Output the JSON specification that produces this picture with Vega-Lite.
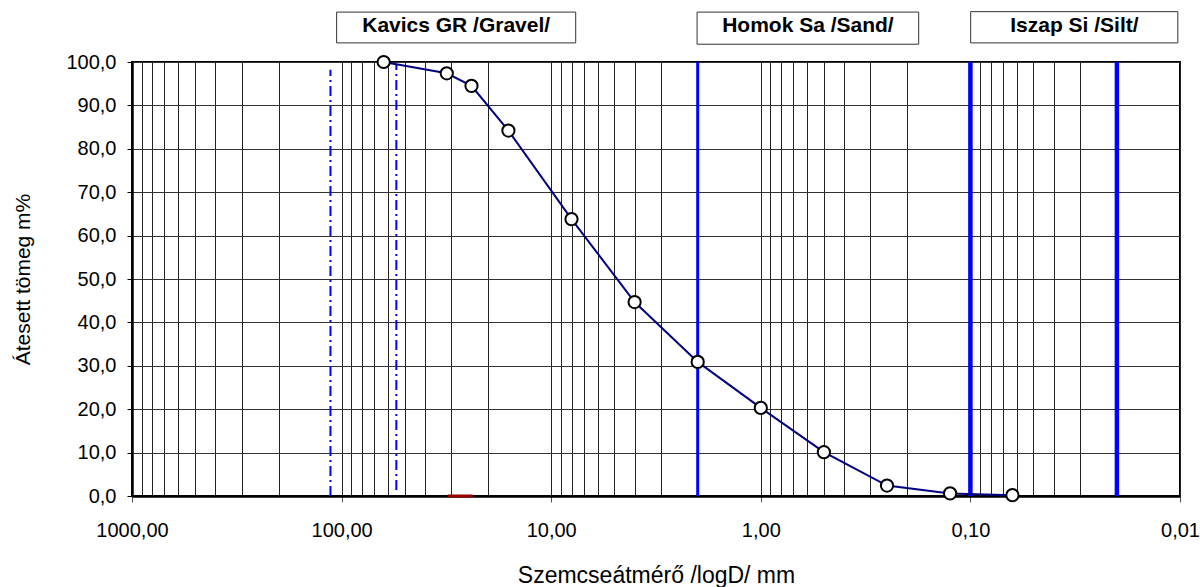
{
  "$schema": "https://vega.github.io/schema/vega-lite/v6.json",
  "width": 1048,
  "height": 434,
  "autosize": "none",
  "padding": {"left": 132, "top": 62, "right": 20, "bottom": 91},
  "background": "white",
  "config": {
    "font": "Liberation Sans",
    "view": {"stroke": "black", "strokeWidth": 2},
    "axis": {"labelColor": "black", "titleColor": "black", "labelFont": "Liberation Sans", "titleFont": "Liberation Sans"}
  },
  "datasets": {
    "sieve": [
      {"d": 63, "p": 100},
      {"d": 31.5, "p": 97.4},
      {"d": 24, "p": 94.5},
      {"d": 16, "p": 84.2},
      {"d": 8, "p": 63.8},
      {"d": 4, "p": 44.7},
      {"d": 2, "p": 30.9},
      {"d": 1, "p": 20.3},
      {"d": 0.5, "p": 10.1},
      {"d": 0.25, "p": 2.4},
      {"d": 0.125, "p": 0.6},
      {"d": 0.063, "p": 0.2}
    ],
    "zones": [
      {"name": "Kavics GR /Gravel/", "x1": 105.6, "x2": 7.64, "xc": 28.4, "y1": 104.4, "y2": 111.5, "yt": 106.8},
      {"name": "Homok Sa /Sand/", "x1": 2.014, "x2": 0.1765, "xc": 0.596, "y1": 104.1, "y2": 111.5, "yt": 106.8},
      {"name": "Iszap Si /Silt/", "x1": 0.0997, "x2": 0.01024, "xc": 0.0319, "y1": 104.4, "y2": 111.6, "yt": 106.8}
    ],
    "markers": [
      {"d": 113, "p0": 0, "p1": 98.2},
      {"d": 54.8, "p0": 1.4, "p1": 99.3}
    ],
    "boundMain": [{"d": 2}],
    "boundFine": [{"d": 0.1}, {"d": 0.02}],
    "redSeg": [{"d1": 31.2, "d2": 23.7, "p": 0}]
  },
  "resolve": {"axis": {"x": "independent"}},
  "layer": [
    {
      "data": {"name": "zones"},
      "mark": {"type": "rect", "fill": "white", "stroke": "#333333", "strokeWidth": 1, "clip": false},
      "encoding": {
        "x": {
          "field": "x1", "type": "quantitative",
          "scale": {"type": "log", "domain": [0.01, 1000], "reverse": true, "nice": false},
          "axis": {
            "orient": "bottom",
            "values": [1000, 900, 800, 700, 600, 500, 400, 300, 200, 100, 90, 80, 70, 60, 50, 40, 30, 20, 10, 9, 8, 7, 6, 5, 4, 3, 2, 1, 0.9, 0.8, 0.7, 0.6, 0.5, 0.4, 0.3, 0.2, 0.1, 0.09, 0.08, 0.07, 0.06, 0.05, 0.04, 0.03, 0.02, 0.01],
            "grid": true, "gridColor": "#222222", "gridWidth": 1, "gridOpacity": 1,
            "labels": false, "ticks": false, "domain": false, "title": null
          }
        },
        "x2": {"field": "x2"},
        "y": {
          "field": "y1", "type": "quantitative",
          "scale": {"domain": [0, 100], "nice": false, "zero": true},
          "title": "Átesett tömeg m%",
          "axis": {
            "values": [0, 10, 20, 30, 40, 50, 60, 70, 80, 90, 100],
            "labelExpr": "replace(format(datum.value, '.1f'), '.', ',')",
            "labelFontSize": 20, "labelPadding": 11,
            "tickSize": 5, "tickColor": "black", "tickWidth": 1,
            "grid": true, "gridColor": "#333333", "gridWidth": 1, "gridOpacity": 1,
            "domain": true, "domainColor": "black", "domainWidth": 2.5,
            "titleFontSize": 21, "titleFontWeight": "normal", "titlePadding": 32
          }
        },
        "y2": {"field": "y2"}
      }
    },
    {
      "data": {"name": "zones"},
      "mark": {"type": "text", "fontSize": 21, "fontWeight": "bold", "align": "center", "baseline": "alphabetic", "color": "black", "clip": false},
      "encoding": {
        "x": {"field": "xc", "type": "quantitative", "axis": null},
        "y": {"field": "yt", "type": "quantitative", "title": "Átesett tömeg m%"},
        "text": {"field": "name"}
      }
    },
    {
      "data": {"name": "markers"},
      "mark": {"type": "rule", "color": "#0000FF", "strokeWidth": 2, "strokeDash": [10, 4, 2, 4]},
      "encoding": {
        "x": {"field": "d", "type": "quantitative", "axis": null},
        "y": {"field": "p0", "type": "quantitative", "title": "Átesett tömeg m%"},
        "y2": {"field": "p1"}
      }
    },
    {
      "data": {"name": "boundMain"},
      "mark": {"type": "rule", "color": "#0000FF", "strokeWidth": 3},
      "encoding": {
        "x": {"field": "d", "type": "quantitative", "axis": null}
      }
    },
    {
      "data": {"name": "boundFine"},
      "mark": {"type": "rule", "color": "#0000FF", "strokeWidth": 4.5},
      "encoding": {
        "x": {"field": "d", "type": "quantitative", "axis": null}
      }
    },
    {
      "data": {"name": "redSeg"},
      "mark": {"type": "rule", "color": "#990000", "strokeWidth": 3},
      "encoding": {
        "x": {"field": "d1", "type": "quantitative", "axis": null},
        "x2": {"field": "d2"},
        "y": {"field": "p", "type": "quantitative", "title": "Átesett tömeg m%"}
      }
    },
    {
      "data": {"name": "sieve"},
      "mark": {"type": "line", "color": "#000080", "strokeWidth": 2},
      "encoding": {
        "x": {
          "field": "d", "type": "quantitative",
          "title": "Szemcseátmérő /logD/ mm",
          "axis": {
            "orient": "bottom",
            "values": [1000, 100, 10, 1, 0.1, 0.01],
            "labelExpr": "replace(format(datum.value, '.2f'), '.', ',')",
            "labelFontSize": 20, "labelPadding": 18, "labelOverlap": false, "labelFlush": false, "labelBound": false,
            "tickSize": 6, "tickColor": "#555555", "tickWidth": 1,
            "grid": false,
            "domain": true, "domainColor": "black", "domainWidth": 2.5,
            "titleFontSize": 23, "titleFontWeight": "normal", "titlePadding": 24
          }
        },
        "y": {"field": "p", "type": "quantitative", "title": "Átesett tömeg m%"}
      }
    },
    {
      "data": {"name": "sieve"},
      "mark": {"type": "point", "shape": "circle", "filled": false, "fill": "white", "fillOpacity": 1, "stroke": "black", "strokeWidth": 2, "size": 150, "opacity": 1},
      "encoding": {
        "x": {"field": "d", "type": "quantitative", "axis": null},
        "y": {"field": "p", "type": "quantitative", "title": "Átesett tömeg m%"}
      }
    }
  ]
}
